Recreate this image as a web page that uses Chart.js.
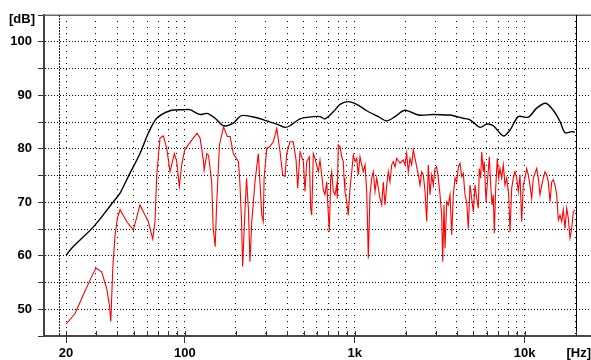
<!DOCTYPE html>
<html>
<head>
<meta charset="utf-8">
<script src="https://cdn.jsdelivr.net/npm/chart.js@4/dist/chart.umd.min.js"></script>
<style>
html,body{margin:0;padding:0;background:#fff;overflow:hidden}
#wrap{width:591px;height:360px;position:relative}
canvas{display:block}
</style>
</head>
<body>
<div id="wrap"><canvas id="c" width="591" height="360"></canvas></div>
<script>
// ---- data ----
const blackHz = [20,22,29,38,41.6,46.5,54.5,61,68.4,82,98,107,123,135,151,169,193,216,265,304,348,389,416,477,571,625,669,749,820,917,1028,1178,1378,1544,1727,1978,2370,2904,3480,3640,4360,4776,5468,5988,6546,7496,8210,9186,10520,11788,13320,14760,16170,17300,18940,19800];
const blackDb = [60.1,61.7,65.4,70.1,71.7,74.8,79.1,82.9,85.7,87.1,87.3,87.3,86.4,86.6,85.7,84.3,84.8,86.2,85.8,85.2,84.6,84.0,84.3,85.6,86.0,86.0,85.6,86.9,88.3,88.8,88.3,87.1,86.0,85.2,86.0,87.2,86.3,86.4,86.3,86.3,85.7,85.4,84.0,84.6,84.3,82.4,83.5,86.0,85.9,87.6,88.5,87.2,85.1,83.0,83.2,83.1];

const redHz = [20,22.6,25.3,28.3,30,32.4,34.7,36,36.7,37.7,38.9,40.1,41.6,45.5,49.8,54.5,58.3,61,64.8,66.8,68.4,71.5,74.8,78.3,81.9,86.8,89.7,92.9,95.9,100,110,118,123,129,130,135,138,144,147,151,154,160,169,178,185,193,207,211,216,219,226,231,237,242,248,259,271,277,284,290,293,304,317,332,348,364,377,389,398,416,435,452,462,477,499,510,522,541,551,559,571,584,611,625,640,654,669,685,700,709,723,733,749,766,784,790,801,820,839,857,866,877,898,917,939,961,982,1005,1028,1050,1075,1100,1124,1151,1177,1193,1203,1231,1260,1288,1318,1348,1410,1443,1474,1509,1544,1578,1614,1652,1688,1728,1768,1849,1933,1979,2024,2068,2117,2166,2214,2266,2319,2370,2425,2482,2536,2595,2655,2713,2776,2841,2904,2971,3040,3107,3179,3253,3298,3357,3403,3482,3558,3641,3726,3808,3897,3988,4075,4169,4266,4359,4461,4565,4666,4775,4886,4994,5110,5229,5343,5416,5519,5595,5718,5795,5930,6037,6203,6320,6434,6546,6636,6763,6911,7045,7170,7337,7497,7672,7850,8066,8210,8401,8584,8784,8988,9186,9400,9619,9830,10058,10293,10520,10765,11016,11258,11520,11788,12050,12331,12618,12894,13195,13502,13798,14120,14448,14764,15108,15460,15802,16170,16546,16908,17300,17704,18092,18513,18945,19361,19811];
const redDb = [47.2,49.2,52.7,56.1,57.7,57.0,53.9,50.8,47.7,57.7,63.9,67.0,68.6,66.4,64.8,69.5,67.6,66.4,63.1,66.4,75.1,82.0,82.4,80.1,75.7,79.1,77.6,72.9,77.0,79.8,81.6,82.9,82.0,77.6,76.0,79.1,78.8,73.8,65.1,61.7,69.5,80.7,84.1,82.3,82.3,79.1,77.6,73.8,66.4,58.0,68.2,74.5,68.6,58.9,66.4,73.8,79.1,73.8,67.6,66.4,74.5,80.1,80.4,81.3,83.8,79.4,75.1,74.8,79.1,81.3,81.3,77.9,72.6,79.4,77.6,72.0,77.6,78.5,68.9,67.6,79.1,78.2,75.7,77.9,75.1,72.3,71.4,73.8,67.6,64.5,74.5,75.7,72.0,71.4,73.2,70.7,80.7,80.4,78.5,77.6,74.5,72.0,70.1,67.6,72.6,75.7,78.8,77.6,78.2,75.1,78.5,77.0,75.7,77.0,72.0,65.1,59.5,71.4,74.5,75.7,72.0,74.5,70.7,69.5,73.8,69.5,73.2,75.7,73.8,77.0,77.6,76.6,78.2,77.3,77.9,77.0,79.1,75.7,78.2,77.0,79.8,78.2,76.6,75.1,73.2,75.7,75.1,72.0,66.4,77.0,71.4,75.1,73.2,76.3,76.6,74.5,71.4,67.6,58.9,69.5,61.4,70.1,69.5,71.4,63.9,71.4,74.5,73.8,76.6,77.3,74.8,75.4,71.4,70.1,65.1,73.2,70.7,68.2,73.2,70.7,68.9,76.3,74.5,79.4,75.7,77.6,70.1,73.5,78.5,73.2,69.5,71.4,64.2,72.6,78.2,74.5,76.3,74.5,77.0,73.2,74.5,71.4,64.5,72.6,74.5,75.7,74.5,72.0,75.1,66.4,73.2,74.5,76.3,75.1,73.2,70.7,74.5,75.4,76.3,74.5,71.4,73.2,74.5,75.7,75.1,73.8,70.1,73.8,74.2,73.2,71.4,66.7,67.6,66.4,68.6,65.1,68.9,67.0,63.3,65.1,68.2,68.6];

const xTickHz = [20,30,40,50,60,70,80,90,100,200,300,400,500,600,700,800,900,1000,2000,3000,4000,5000,6000,7000,8000,9000,10000,20000];
const xTickLabels = {20:'20',100:'100',1000:'1k',10000:'10k'};
const yTickLabels = [50,60,70,80,90,100];
const xRange = [14.84, 24610];
const yRange = [45, 105];
const lowMarkHz = 18.3;
const highMarkHz = 20000;
const xUnit = '[Hz]';
const yUnit = '[dB]';

const FONT = {family:'"Liberation Sans", Arial, sans-serif', size:13, weight:'bold'};

const extras = {
  id:'extras',
  beforeDatasetsDraw(chart){
    const {ctx, chartArea:a, scales:{x}} = chart;
    ctx.save();
    // top frame line
    ctx.strokeStyle = '#666'; ctx.lineWidth = 1.5;
    ctx.beginPath(); ctx.moveTo(a.left, a.top+0.25); ctx.lineTo(a.right, a.top+0.25); ctx.stroke();
    // low marker (dashed)
    const xl = Math.round(x.getPixelForValue(lowMarkHz)) + 0.5;
    ctx.strokeStyle = '#222'; ctx.lineWidth = 1; ctx.setLineDash([2,1]);
    ctx.beginPath(); ctx.moveTo(xl, a.top); ctx.lineTo(xl, a.bottom); ctx.stroke();
    ctx.setLineDash([]);
    // high marker (solid)
    const xh = Math.round(x.getPixelForValue(highMarkHz)) + 0.5;
    ctx.strokeStyle = '#000';
    ctx.beginPath(); ctx.moveTo(xh, a.top); ctx.lineTo(xh, a.bottom); ctx.stroke();
    // short inner ticks on the frequency axis
    ctx.strokeStyle = '#333';
    xTickHz.forEach(v => {
      const px = Math.round(x.getPixelForValue(v)) + 0.5;
      ctx.beginPath(); ctx.moveTo(px, a.bottom - 5); ctx.lineTo(px, a.bottom); ctx.stroke();
    });
    ctx.restore();
  },
  afterDraw(chart){
    const {ctx} = chart;
    ctx.save();
    ctx.font = 'bold 13px "Liberation Sans", Arial, sans-serif';
    ctx.fillStyle = '#000';
    ctx.textAlign = 'left';
    ctx.textBaseline = 'alphabetic';
    ctx.fillText(yUnit, 9, 23);
    ctx.restore();
  }
};

new Chart(document.getElementById('c'), {
  type:'line',
  data:{
    datasets:[
      {label:'red', data: redHz.map((f,i)=>({x:f, y:redDb[i]})), borderColor:'#ff0000', borderWidth:1.1, pointRadius:0, tension:0, fill:false},
      {label:'black', data: blackHz.map((f,i)=>({x:f, y:blackDb[i]})), borderColor:'#000000', borderWidth:1.4, pointRadius:0, tension:0.3, fill:false}
    ]
  },
  options:{
    responsive:false,
    devicePixelRatio:1,
    animation:false,
    events:[],
    layout:{padding:{top:15,left:0,right:0,bottom:0}},
    plugins:{legend:{display:false}, tooltip:{enabled:false}},
    scales:{
      x:{
        type:'logarithmic',
        min:xRange[0], max:xRange[1],
        afterBuildTicks(s){ s.ticks = xTickHz.map(v=>({value:v, major:false})); },
        afterFit(s){ s.height = 24; },
        ticks:{autoSkip:false, maxRotation:0, minRotation:0, padding:3, color:'#000', font:FONT,
               callback:(v)=> xTickLabels[v] || ''},
        grid:{color:'#000', lineWidth:1, drawTicks:true, tickLength:7,
              tickColor:(c)=> (c.tick && xTickLabels[c.tick.value]) ? '#333' : 'rgba(0,0,0,0)',
              tickBorderDash:[]},
        border:{display:true, color:'#444', width:2, dash:[1,5]},
        title:{display:true, text:xUnit, align:'end', color:'#000', padding:{top:0,bottom:0},
               font:{family:FONT.family, size:13, weight:'bold', lineHeight:1}}
      },
      y:{
        type:'linear',
        min:yRange[0], max:yRange[1],
        afterFit(s){ s.width = 44; },
        ticks:{stepSize:5, padding:6, color:'#000', font:FONT,
               callback:(v)=> yTickLabels.includes(v) ? String(v) : ''},
        grid:{color:'#000', lineWidth:1, drawTicks:true, tickLength:6, tickColor:'#333', tickBorderDash:[]},
        border:{display:true, color:'#444', width:2, dash:[1,2]}
      }
    }
  },
  plugins:[extras]
});
</script>
</body>
</html>
